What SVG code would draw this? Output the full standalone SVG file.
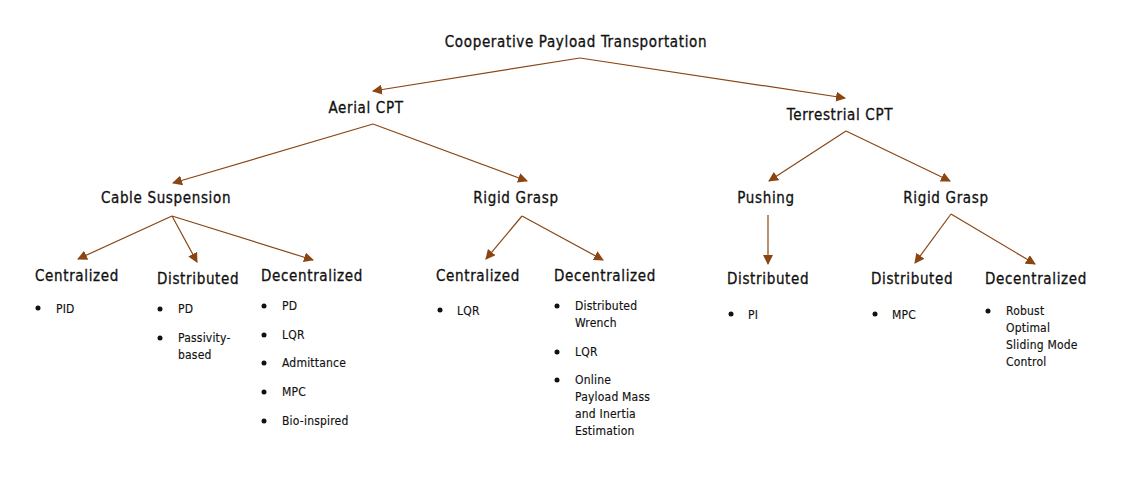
<svg xmlns="http://www.w3.org/2000/svg" width="1124" height="492" viewBox="0 0 1124 492">
<defs>
<marker id="ah" viewBox="0 0 10 10" refX="9" refY="5" markerWidth="10" markerHeight="10" markerUnits="userSpaceOnUse" orient="auto">
<path d="M0,0 L10,5 L0,10 Z" fill="#8B4513"/>
</marker>
<style>
.h{font-family:"DejaVu Sans Condensed","DejaVu Sans",sans-serif;font-size:15px;letter-spacing:0.65px;fill:#111;stroke:#111;stroke-width:0.3px;}
.t{font-family:"DejaVu Sans Condensed","DejaVu Sans",sans-serif;font-size:12px;letter-spacing:0.2px;fill:#111;stroke:#111;stroke-width:0.15px;}
.c{fill:none;stroke:#8B4513;stroke-width:1.2;marker-end:url(#ah);}
.b{fill:#111;}
</style>
</defs>
<rect width="1124" height="492" fill="#fff"/>
<g id="connectors">
<path class="c" d="M580,58 L373,91"/>
<path class="c" d="M580,58 L845,98"/>
<path class="c" d="M373,124 L173,183"/>
<path class="c" d="M373,124 L527,181"/>
<path class="c" d="M172,216 L78,259"/>
<path class="c" d="M172,216 L197,262"/>
<path class="c" d="M172,216 L313,260"/>
<path class="c" d="M522,216 L486,259"/>
<path class="c" d="M522,216 L603,260"/>
<path class="c" d="M846,131 L769,181"/>
<path class="c" d="M846,131 L950,181"/>
<path class="c" d="M768,215 L768,264"/>
<path class="c" d="M951,214 L915,263"/>
<path class="c" d="M951,214 L1035,264"/>
</g>
<g id="root"><text class="h" x="576" y="47" text-anchor="middle">Cooperative Payload Transportation</text></g>
<g id="aerial"><text class="h" x="366" y="113" text-anchor="middle">Aerial CPT</text></g>
<g id="terrestrial"><text class="h" x="840" y="120" text-anchor="middle">Terrestrial CPT</text></g>
<g id="cable"><text class="h" x="166" y="203" text-anchor="middle">Cable Suspension</text></g>
<g id="rigid-aerial"><text class="h" x="516" y="203" text-anchor="middle">Rigid Grasp</text></g>
<g id="pushing"><text class="h" x="766" y="203" text-anchor="middle">Pushing</text></g>
<g id="rigid-terrestrial"><text class="h" x="946" y="203" text-anchor="middle">Rigid Grasp</text></g>

<g id="cs-centralized">
<text class="h" x="35" y="281">Centralized</text>
<circle class="b" cx="38" cy="308" r="2.5"/><text class="t" x="56" y="313">PID</text>
</g>
<g id="cs-distributed">
<text class="h" x="157" y="284">Distributed</text>
<circle class="b" cx="160" cy="309" r="2.5"/><text class="t" x="178" y="313">PD</text>
<circle class="b" cx="160" cy="338" r="2.5"/><text class="t" x="178" y="342">Passivity-</text><text class="t" x="178" y="359">based</text>
</g>
<g id="cs-decentralized">
<text class="h" x="261" y="281">Decentralized</text>
<circle class="b" cx="264" cy="306" r="2.5"/><text class="t" x="282" y="310">PD</text>
<circle class="b" cx="264" cy="335" r="2.5"/><text class="t" x="282" y="339">LQR</text>
<circle class="b" cx="264" cy="363" r="2.5"/><text class="t" x="282" y="367">Admittance</text>
<circle class="b" cx="264" cy="392" r="2.5"/><text class="t" x="282" y="396">MPC</text>
<circle class="b" cx="264" cy="421" r="2.5"/><text class="t" x="282" y="425">Bio-inspired</text>
</g>
<g id="rg-centralized">
<text class="h" x="436" y="281">Centralized</text>
<circle class="b" cx="440" cy="310" r="2.5"/><text class="t" x="457" y="315">LQR</text>
</g>
<g id="rg-decentralized">
<text class="h" x="554" y="281">Decentralized</text>
<circle class="b" cx="557" cy="306" r="2.5"/><text class="t" x="575" y="310">Distributed</text><text class="t" x="575" y="327">Wrench</text>
<circle class="b" cx="557" cy="352" r="2.5"/><text class="t" x="575" y="356">LQR</text>
<circle class="b" cx="557" cy="380" r="2.5"/><text class="t" x="575" y="384">Online</text><text class="t" x="575" y="401">Payload Mass</text><text class="t" x="575" y="418">and Inertia</text><text class="t" x="575" y="435">Estimation</text>
</g>
<g id="push-distributed">
<text class="h" x="727" y="284">Distributed</text>
<circle class="b" cx="731" cy="314" r="2.5"/><text class="t" x="748" y="319">PI</text>
</g>
<g id="rgt-distributed">
<text class="h" x="871" y="284">Distributed</text>
<circle class="b" cx="875" cy="314" r="2.5"/><text class="t" x="892" y="319">MPC</text>
</g>
<g id="rgt-decentralized">
<text class="h" x="985" y="284">Decentralized</text>
<circle class="b" cx="988" cy="311" r="2.5"/><text class="t" x="1006" y="315">Robust</text><text class="t" x="1006" y="332">Optimal</text><text class="t" x="1006" y="349">Sliding Mode</text><text class="t" x="1006" y="366">Control</text>
</g>
</svg>
